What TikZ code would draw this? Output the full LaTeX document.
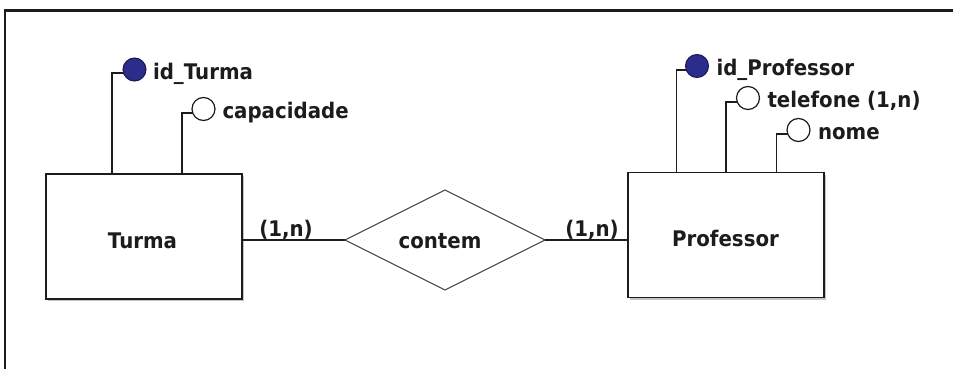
\documentclass[tikz,border=0pt]{standalone}
\usepackage{fontspec}
\newfontfamily\erfont{DejaVu Sans}[FakeStretch=0.92]
\usetikzlibrary{shapes.geometric,shadows}
\definecolor{ink}{RGB}{28,28,28}
\definecolor{keyfill}{RGB}{44,44,140}
\definecolor{keyline}{RGB}{25,25,75}
\begin{document}
\begin{tikzpicture}[x=1pt,y=-1pt,
  every node/.style={inner sep=0pt, outer sep=0pt, text=ink,
    font=\erfont\bfseries\fontsize{21.5}{24}\selectfont},
  entity/.style={draw=ink, line width=1.7pt, fill=white,
    minimum width=196pt, minimum height=125pt,
    drop shadow={shadow xshift=2pt, shadow yshift=-2pt, opacity=.45, fill=gray}},
  relation/.style={diamond, draw=ink!85, line width=1pt, fill=white,
    aspect=2, minimum width=200pt, minimum height=100pt},
  keyattr/.style={circle, draw=keyline, fill=keyfill, line width=1pt, minimum size=23pt},
  attr/.style={circle, draw=ink, fill=white, line width=1.2pt, minimum size=23pt},
  attrtext/.style={anchor=base west},
  lbl/.style={anchor=base},
  link/.style={draw=ink, line width=1.6pt}]

  % canvas and outer frame
  \useasboundingbox (0,0) rectangle (953,369);
  \fill[white] (0,0) rectangle (953,369);
  \draw[ink, line width=2.2pt] (5.3,372) |- (956,10.5);

  % entities
  \node[entity] (turma) at (144,236.5) {};
  \node[lbl] (turmaLbl) at (142.5,248) {Turma};
  \node[entity] (prof) at (726,235) {};
  \node[lbl] (profLbl) at (725.5,246) {Professor};

  % relationship
  \node[relation] (contem) at (445,240) {};
  \node[lbl] (contemLbl) at (440,248) {contem};

  % relationship links with cardinalities
  \draw[link] (turma.east |- contem.west) -- (contem.west);
  \draw[link] (contem.east) -- (prof.west |- contem.east);
  \node[lbl] (cardT) at (286,236) {(1,n)};
  \node[lbl] (cardP) at (592,236) {(1,n)};

  % attributes of Turma
  \node[keyattr] (idT) at (134.5,69.5) {};
  \node[attrtext] (idTtxt) at (153,79.5) {id\_Turma};
  \node[attr] (capT) at (203.5,109) {};
  \node[attrtext] (capTtxt) at (222.5,118.5) {capacidade};

  % attributes of Professor
  \node[keyattr] (idP) at (697,66) {};
  \node[attrtext] (idPtxt) at (716.5,75.5) {id\_Professor};
  \node[attr] (telP) at (748,98) {};
  \node[attrtext] (telPtxt) at (767.5,107.5) {telefone (1,n)};
  \node[attr] (nomeP) at (798.5,130) {};
  \node[attrtext] (nomePtxt) at (818,139.5) {nome};

  % attribute stems
  \coordinate (s1) at (112,0);
  \coordinate (s2) at (182,0);
  \coordinate (s3) at (676.5,0);
  \coordinate (s4) at (726,0);
  \coordinate (s5) at (776.5,0);
  \draw[link] (idT.199.5) -| (s1 |- turma.north);
  \draw[link] (capT.199.5) -| (s2 |- turma.north);
  \draw[link] (idP.199.5) -| (s3 |- prof.north);
  \draw[link] (telP.199.5) -| (s4 |- prof.north);
  \draw[link] (nomeP.199.5) -| (s5 |- prof.north);
\end{tikzpicture}
\end{document}
